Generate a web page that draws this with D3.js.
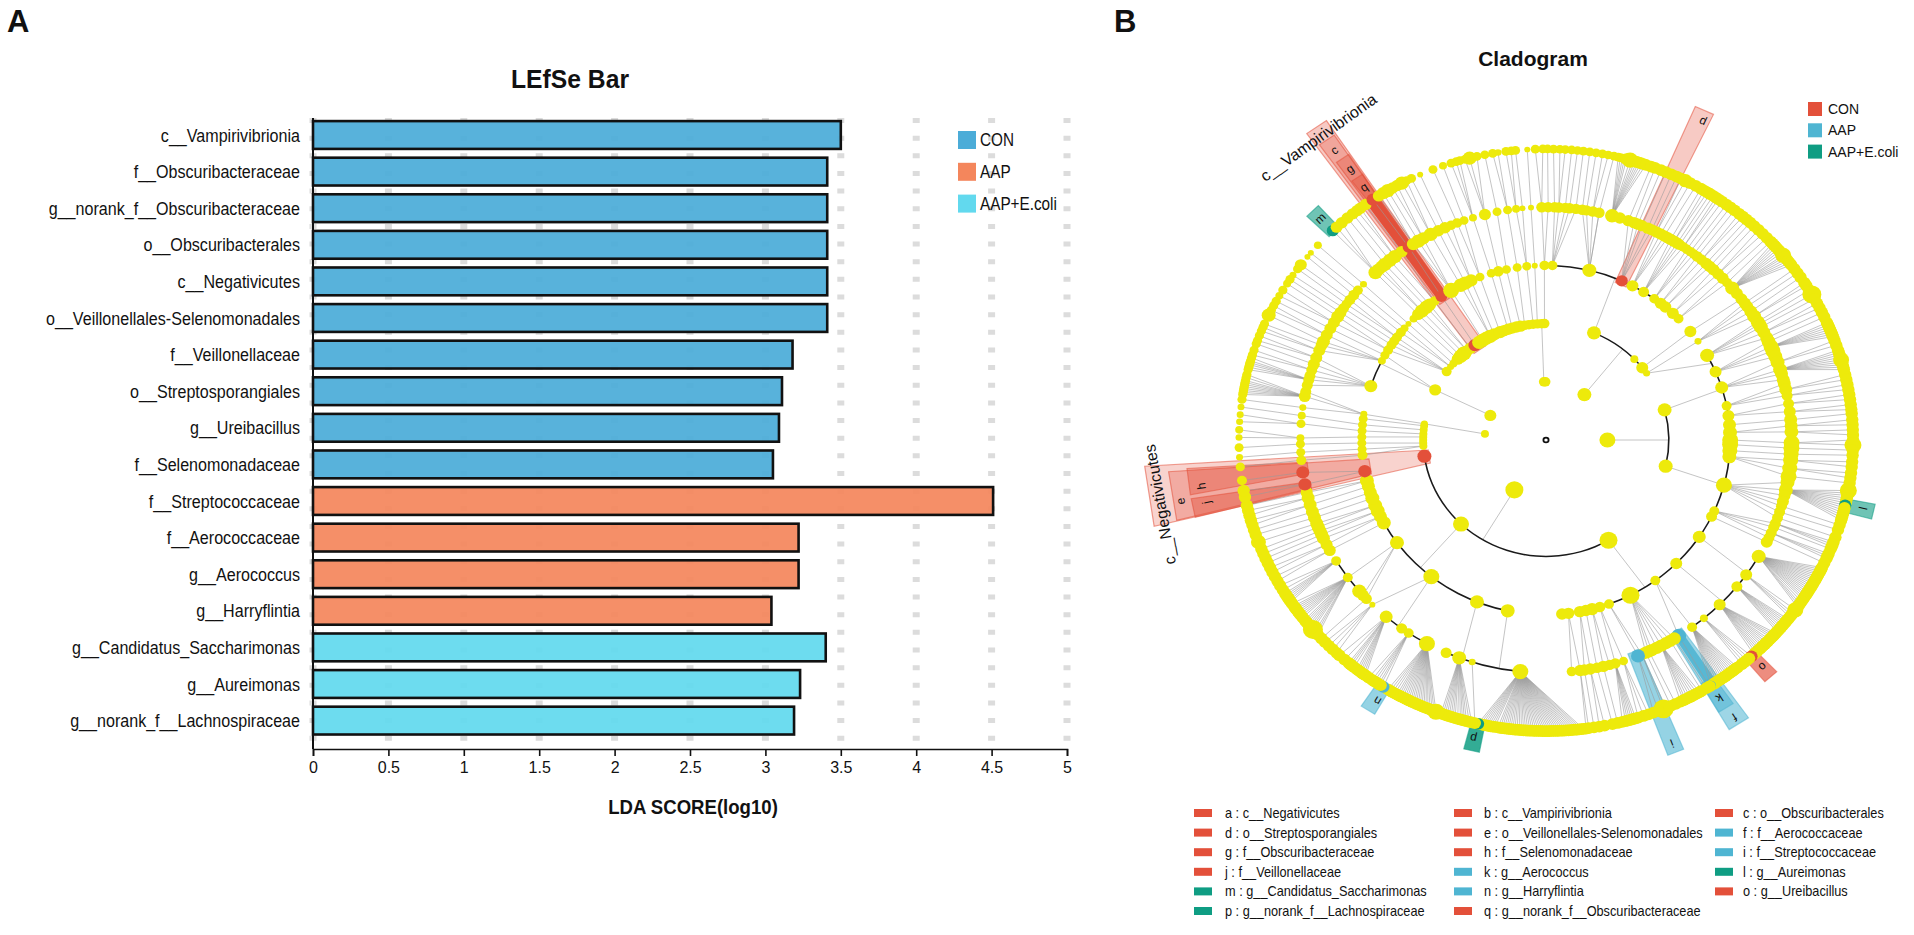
<!DOCTYPE html>
<html><head><meta charset="utf-8">
<script src="https://cdn.jsdelivr.net/npm/d3@7/dist/d3.min.js"></script>
<style>html,body{margin:0;padding:0;background:#fff}svg{display:block}text{font-family:"Liberation Sans",Arial,sans-serif;fill:#111}</style>
</head><body><svg id="c" width="1914" height="935"></svg>
<script>
// ---------- Panel A data ----------
const barNames=["c__Vampirivibrionia","f__Obscuribacteraceae","g__norank_f__Obscuribacteraceae","o__Obscuribacterales","c__Negativicutes","o__Veillonellales-Selenomonadales","f__Veillonellaceae","o__Streptosporangiales","g__Ureibacillus","f__Selenomonadaceae","f__Streptococcaceae","f__Aerococcaceae","g__Aerococcus","g__Harryflintia","g__Candidatus_Saccharimonas","g__Aureimonas","g__norank_f__Lachnospiraceae"];
const barValues=[3.50,3.41,3.41,3.41,3.41,3.41,3.18,3.11,3.09,3.05,4.51,3.22,3.22,3.04,3.40,3.23,3.19];
const barGroups=["CON","CON","CON","CON","CON","CON","CON","CON","CON","CON","AAP","AAP","AAP","AAP","AAP+E.coli","AAP+E.coli","AAP+E.coli"];
const groupNames=["CON","AAP","AAP+E.coli"];
const barTicks=[0,0.5,1,1.5,2,2.5,3,3.5,4,4.5,5];
// ---------- Panel B data: [angle clockwise from north, abundance] per taxonomic ring ----------
const phylumNodes=[[38.7,7],[90,8],[211,9],[276,4],[295,6],[358,5],[359.5,5]];
const classNodes=[[23,7],[46,4],[51.6,6],[55,3.5],[75,7],[103,7],[149.4,9],[223.8,8],[262,7],[267,4],[268.5,4],[270,4],[271.5,4],[273,4],[275,4],[277,4],[278,3.5],[295.5,6],[306,5],[309,3.5],[311,4],[314,6],[316,7],[318,7.5],[320,6],[322,6],[324.6,6.5],[327,7],[329,7],[331,7],[333,7],[335,6.5],[338,6.5],[340,6],[342,6],[344,6],[346,6],[348,6],[350,5],[352,5],[354,5],[356,5],[358,5],[359.3,5]];
const orderNodes=[[359.5,5],[2,5],[13.6,7],[24.3,6],[28,6],[32,5.5],[36,5],[38.5,6],[40.4,6],[43.5,6],[46,5],[51.6,6],[55.6,3.5],[61,7],[67,6],[72.5,6.5],[78.7,5],[82,6],[85,6.5],[87.5,7],[90,8],[91.5,8],[93.5,7.5],[95.5,7],[105,8],[114,5],[116,5.5],[123.7,6.5],[135,6],[143.6,5],[152.7,9],[160,5],[163,5.5],[165.5,6.5],[167.5,6],[169.4,6],[173,6],[175,6],[192,7],[202,7],[218.5,8],[234,7],[241.7,7],[244,6.5],[246,7],[248,7],[250.5,7],[252.5,6.5],[254.6,6.5],[256.5,7],[259.7,6.5],[265,5],[267,4.5],[269,4.5],[271,4.5],[273,4.5],[275,4.5],[277,4.5],[278.5,3.5],[288,6.5],[297,4],[299,4.5],[301,5],[303,5],[304.5,5],[306,5],[308,5],[309.8,4],[311.7,3],[314,4],[316,6],[317.6,7],[319.5,7],[320.8,6.5],[322.8,5],[325.4,6],[329,8],[332.4,7],[334,7],[336,6.5],[339,4.5],[342.7,4.5],[345,5.5],[347.6,4.5],[351,4.5],[354,4.5],[356.5,3]];
const familyNodes=[[359,5.5],[0.5,5.5],[2,5.5],[3,5.5],[4.5,5.5],[5.5,5.5],[7,5.5],[8.5,5.5],[9.5,5.5],[11,5.5],[12.5,5.5],[15.6,7],[17.5,6],[19.6,6],[21,6],[22,6],[23,6],[24.5,6],[25.5,6],[26.7,6],[27.8,6],[28.8,6],[29.7,6],[30.5,6],[31.4,6],[32.3,6],[33,5.5],[34,5],[35,5],[36,5],[37,5],[38,5.5],[39.3,5.5],[40.7,6],[41.8,6],[43,6],[44.5,6],[46,6],[47.5,5],[49.3,7],[51,6],[52.7,6],[54,6],[55,6],[56.5,6.5],[57.9,7],[59.5,7],[60.2,7],[61,7],[62.5,6.5],[64,6.5],[65,7],[66.4,7.5],[67.5,7.5],[69,7],[70.5,7],[72.4,7],[73.5,6.5],[75,6.5],[76,6.5],[77.5,6.5],[79,5.5],[81,5.5],[83,6],[85,6.5],[86.5,6.5],[88,7],[90.7,8],[92,8],[93.5,7.5],[95,7.5],[97,7.5],[99,8],[100.5,7],[102.4,7],[103.8,6],[105.3,6],[106.5,5.5],[108,5.5],[109.5,5.5],[111,5.5],[112,5.5],[113.5,5.5],[114.8,5.5],[116,6],[120,7],[125.4,6],[129,5.5],[135,6],[140,4],[143.5,5],[147.3,7.5],[148.5,6.5],[149.6,6.5],[150.8,6.5],[152,6.5],[153.2,6.5],[154.5,6.5],[155.2,6.5],[156,6.5],[157,6],[158,7],[161.6,4.5],[163.6,5.5],[165,5.5],[166.5,6],[168,5.5],[169.6,6],[171,6],[172,6],[174,5],[186,8],[197.5,3.5],[200.7,7],[204,5.5],[209,8],[214,5],[216,5.5],[220.6,6.5],[225,3],[227,5.5],[228.2,6],[229.5,7],[233.8,5],[238.7,5],[241.7,6],[243.3,6],[245,6.5],[246,6.5],[247,6.5],[248,6.5],[249,6.5],[250.5,6.5],[252,6.5],[253.8,6.5],[255.6,6.5],[257,6],[259,6.5],[262,6.5],[265,5],[267,4.5],[269,4.5],[270.5,4],[274,4.5],[276,4],[278,3.5],[280.8,6],[282,5.5],[283.6,5.5],[285,5.5],[286,5.5],[287.5,5.5],[289,6],[290.7,6],[292.6,6],[294,6],[295,6.5],[296.8,6],[298.6,6],[300.3,6],[302,6.5],[303.2,6],[304.5,5.5],[305.7,5],[307,5.5],[308.5,5.5],[310,5],[312,3.5],[316,7],[317,6.5],[318,6.5],[319,7],[320.5,7],[322,7],[324,6],[326,6],[327.3,6.5],[328.7,7],[330,6.5],[332,7],[334,6],[335.7,6],[337.3,5],[338.8,5],[340.5,4.5],[342.7,4],[345.6,6],[348.5,4.5],[351,4.5],[353,4],[354.5,3],[356.5,3]];
const genusAngles=[0.3,1.4,2.6,3.6,4.8,5.9,7,8.2,9.4,10.6,11.7,12.8,13.6,14,14.4,14.8,15.2,15.9,16.4,16.8,17.2,17.6,18,18.5,19,20,20.8,22,23,24.1,25.2,26.1,27,28,29.2,30.3,31,31.7,32.3,33,33.6,34.2,35,36,36.9,37.9,39,39.9,40.8,41.7,42.7,43.8,44.9,46,47,47.5,48,48.5,49,49.5,50,50.6,51,51.5,52,52.5,53,54,55,56,57.3,58,59,60,61,62,63,64,65,66.2,66.7,67.2,67.7,68.2,68.7,69.2,70,71,72,72.5,73,73.5,74,74.5,75,75.5,76,77,78,79,80,81,82,83,84,84.8,86,87,88,89,90,91,92,93,94.3,95.3,96.5,97.5,98.5,100,100.5,101,101.5,102,102.5,103,103.5,104,104.5,105,105.5,106,107,108,109.5,110.5,111,111.5,112,113,113.5,114,115,116,116.4,116.8,117.2,117.6,118,118.4,118.8,119.2,119.6,120,120.4,120.8,121.2,121.6,122,122.4,122.8,123.2,123.7,124.2,124.6,125,125.7,126.5,127,127.5,128,128.4,128.8,129.2,129.6,130,130.4,130.8,131.2,131.6,132,132.4,132.8,133.3,133.7,134.1,134.5,134.9,135.3,135.7,136.1,136.5,136.9,137.4,138,138.6,139.2,139.8,140.4,141.4,141.8,142.2,142.6,143,143.4,143.8,144.2,144.6,145,145.4,145.8,146.2,146.6,147,147.5,147.8,148.5,149.5,150,150.5,151,151.5,152,152.5,153,153.4,154,155,156,157,157.5,158.5,159.5,160.5,161.5,162.5,163,163.4,163.8,164.2,164.6,165,165.6,166.5,167.5,169,170,171,172,172.5,173,173.4,173.8,174.2,174.6,175,175.4,175.8,176.2,176.6,177,177.4,177.8,178.2,178.6,179,179.4,179.8,180.2,180.6,181,181.4,181.8,182.2,182.6,183,183.4,183.8,184.2,184.6,185,185.4,185.8,186.2,186.6,187,187.4,187.8,188.2,188.6,189,189.6,190,190.4,190.8,191.2,191.6,192,192.4,192.8,193.4,194,194.5,195,195.4,195.8,196.2,196.7,197.2,197.6,198,198.4,198.8,199.2,199.6,200,201,201.4,201.8,202.2,202.6,203,203.4,203.8,204.2,204.6,205,205.4,205.8,206.2,206.6,207,207.4,207.8,208.2,208.6,209,209.5,210,210.5,211,212,212.6,213,213.5,214,214.5,215.3,216,216.4,216.8,217.2,217.6,218,218.7,219.2,219.6,220,221,222.3,223,224,225,226,227,228,228.4,228.8,229.4,229.8,230.2,230.6,231,231.4,231.8,232.4,232.8,233.2,233.6,234,234.4,234.8,235.2,235.8,236.2,236.6,237,237.4,237.8,238.2,239,240,241,242,243,244,245,246,247,248,249.5,251,252,253,254,255,256,257,258.7,260,262,264.7,266.6,268.5,270.5,272,273.6,275,276.5,278,279,279.4,279.8,280.2,280.6,281,281.4,281.8,282.4,283,284,284.5,285,285.4,285.8,286.4,287,288,289.3,290,291,292,292.8,293.5,295.4,296.5,297.5,298.5,299.7,301,302.5,303.5,304.5,306,307,309,310,312,316,317,318.3,319.7,321,322,322.8,324,325.7,327,328,329,330,331,332,333,334,335.8,338.4,340.4,342,343,343.7,344.7,345.6,347,348.5,350,351,352.5,353.5,354.3,356.5,358,359.4];
const genusDefault=6.2;
const genusThinSpans=[[264,360],[0,15]];
const genusThin=4.6;
const genusAbundance={"15.9":8,"27":7,"50.6":8,"60":9.5,"74":8,"91":8.5,"100":8.5,"125.7":8,"147.5":5,"157.5":10,"201":8.5,"229.4":10,"249.5":7.5,"262":5,"266.6":3.5,"268.5":4.5,"270.5":3.5,"272":4,"273.6":3.5,"275":3.5,"276.5":3.5,"295.4":7,"299.7":4,"302.5":4,"304.5":3.5,"307":6,"309":3,"310":3,"312":4,"316":6,"317":6,"318.3":6,"319.7":6,"321":6,"322":6,"322.8":6,"324":6,"325.7":6.5,"327":6,"328":6.5,"329":7,"330":6,"331":6,"332":7,"335.8":3,"338.4":4.5,"340.4":4,"345.6":7,"348.5":4.5,"351":3.5,"356.5":3};
const genusSize=a=>genusAbundance[a]||(genusThinSpans.some(s=>a>=s[0]&&a<=s[1])?genusThin:genusDefault);
const nodesByRing={1:phylumNodes,2:classNodes,3:orderNodes,4:familyNodes,5:genusAngles.map(a=>[a,genusSize(a)])};
// biomarkers: [ring, angle, group]
const biomarkers=[[2,262,"CON"],[2,324.6,"CON"],[3,325.4,"CON"],[3,24.3,"CON"],[3,259.7,"CON"],[4,147.3,"AAP"],[4,326,"CON"],[4,262,"CON"],[4,158,"AAP"],[4,259,"CON"],[5,147.5,"AAP"],[5,103,"AAP+E.coli"],[5,316,"AAP+E.coli"],[5,212,"AAP"],[5,138,"CON"],[5,192.8,"AAP+E.coli"],[5,325.7,"CON"]];
// black sibling arcs: [ring, from, to]
const siblingArcs=[[2,75,103],[2,149.4,262],[2,23,52],[3,2,46],[3,61,163],[3,192,258],[3,288,297],[4,15,17.5],[4,49.3,52],[4,120,143.5],[4,186,204],[4,209,220.6],[4,229.5,238.7]];
// parent-to-arc stems: [parent ring, parent angle, child angle]
const stems=[[1,90,90],[1,211,211],[1,38.7,38.7],[1,295,295.5],[1,276,278],[1,358,358],[2,23,22],[2,55,64],[2,75,73],[2,103,105],[2,149.4,147.5],[2,223.8,223],[2,295.5,296],[3,123.7,125],[3,135,134],[3,143.6,143.5],[3,192,191],[3,202,200],[3,218.5,217],[3,234,233.8],[3,13.6,12.5]];
// dense fans from a family to a span of genera: [family angle, from, to]
const genusFans=[[15.6,13.6,19],[49.3,47.5,53],[66.4,66.2,69.2],[72.4,72,76],[102.4,100,106],[120,116,125],[125.4,125.7,127.5],[129,128,131.2],[135,131.6,137.4],[140,138.6,141],[143.5,141.4,147.5],[152,150,154],[163.6,163,165.6],[186,173,192.8],[200.7,194,200],[209,201,211],[214,212,215.3],[220.6,216,220],[233.8,228,235.8],[238.7,236.2,239],[280.8,279,283],[285,284,286.4],[316,316,318.3]];
// rings whose nodes link to nearest parent, with spans [from,to] of angles
const autoSpansClassToOrder=[[262,360],[0,2],[50,60]];
// clade shading: [key, angle, from radius, to radius, inner width, outer width, group, opacity]
const cladeShades=[["a",261.5,118,401,14,64,"CON",0.25],["e",261,178,378,16,52,"CON",0.3],["h",263,240,360,12,28,"CON",0.4],["j",258.5,240,360,8,20,"CON",0.45],["b",325.2,116,402,14,24,"CON",0.3],["c",325.3,178,385,12,18,"CON",0.3],["g",325.6,240,360,11,15,"CON",0.35],["q",325.7,300,335,9,13,"CON",0.4],["",325.5,184,307,11,13,"CON",1],["d",24.5,180,382,12,20,"CON",0.3],["f",147.2,240,356,13,23,"AAP",0.55],["",147.2,242,307,9,11,"AAP",0.9],["i",158.5,240,354,13,17,"AAP",0.6],["k",147.5,300,335,14,17,"AAP",0.55],["l",103,305,336,14,16,"AAP+E.coli",0.6],["m",316,305,336,14,16,"AAP+E.coli",0.6],["p",192.8,305,336,14,16,"AAP+E.coli",0.85],["n",212,305,336,14,16,"AAP",0.6],["o",138,305,336,14,16,"CON",0.65]];
// letters: [letter, angle, radius]
const cladeLetters=[["c",325.3,372],["d",25,372],["e",260,371],["f",147.2,348],["g",325.6,347],["h",262,348],["i",158.5,344],["j",259,346],["k",147.5,323],["l",102.8,325],["m",316,325],["n",211.5,323],["o",137.8,323],["p",193,323],["q",325.7,323]];
const cladeNames=[["c__Vampirivibrionia",324.5,392],["c__Negativicutes",260,392]];
const legendKeys=["a","b","c","d","e","f","g","h","i","j","k","l","m","n","o","p","q"];
const legendTaxa=["c__Negativicutes","c__Vampirivibrionia","o__Obscuribacterales","o__Streptosporangiales","o__Veillonellales-Selenomonadales","f__Aerococcaceae","f__Obscuribacteraceae","f__Selenomonadaceae","f__Streptococcaceae","f__Veillonellaceae","g__Aerococcus","g__Aureimonas","g__Candidatus_Saccharimonas","g__Harryflintia","g__Ureibacillus","g__norank_f__Lachnospiraceae","g__norank_f__Obscuribacteraceae"];
const legendGroups=["CON","CON","CON","CON","CON","AAP","CON","CON","AAP","CON","AAP","AAP+E.coli","AAP+E.coli","AAP","CON","AAP+E.coli","CON"];

// ---------- Styles ----------
const barColor={"CON":"#4BACD8","AAP":"#F4865C","AAP+E.coli":"#62D9EE"};
const cladeColor={"CON":"#E3503A","AAP":"#4FB5D2","AAP+E.coli":"#0F9D83"};
const YELLOW="#EDEA0B";
const svg=d3.select("#c");
function label(g,str,x,y,size,sx,anchor,weight){
  return g.append("text").attr("transform",`translate(${x},${y}) scale(${sx},1)`).attr("text-anchor",anchor||"start")
    .attr("font-size",size).attr("font-weight",weight||"normal").text(str);
}
label(svg,"A",7,32,31,1,"start","bold");
label(svg,"B",1114,32,31,1,"start","bold");

// ---------- Panel A ----------
const x=d3.scaleLinear().domain([0,5]).range([313,1067]);
const y=d3.scaleBand().domain(barNames).range([116.7,738.9]).paddingInner(.24).paddingOuter(.12);
const AX_Y=749;
svg.append("g").selectAll("line").data(barTicks).join("line")
  .attr("x1",d=>x(d)).attr("x2",d=>x(d)).attr("y1",118).attr("y2",752)
  .attr("stroke","#dcdcdc").attr("stroke-width",7).attr("stroke-dasharray","5 12.65");
svg.append("line").attr("x1",313).attr("x2",313).attr("y1",118).attr("y2",AX_Y).attr("stroke","#111").attr("stroke-width",2);
svg.append("g").selectAll("rect").data(barNames).join("rect")
  .attr("x",x(0)).attr("y",d=>y(d)).attr("width",(d,i)=>x(barValues[i])-x(0)).attr("height",y.bandwidth())
  .attr("fill",(d,i)=>barColor[barGroups[i]]).attr("fill-opacity",.93).attr("stroke","#111").attr("stroke-width",2.6);
barNames.forEach(n=>label(svg,n,300,y(n)+y.bandwidth()/2+6.5,18.5,.87,"end"));
const axis=d3.axisBottom(x).tickValues(barTicks).tickFormat(d3.format("~g")).tickSizeOuter(0).tickSize(7);
const axG=svg.append("g").attr("transform",`translate(0,${AX_Y})`).call(axis);
axG.selectAll("path,line").attr("stroke","#111").attr("stroke-width",1.6);
axG.selectAll("text").attr("font-size",16).attr("dy","0.9em").attr("font-family",'"Liberation Sans"');
label(svg,"LEfSe Bar",570,88,26,.95,"middle","bold");
label(svg,"LDA SCORE(log10)",693,814,20,.93,"middle","bold");
groupNames.forEach((g,i)=>{
  const ly=131+i*31.8;
  svg.append("rect").attr("x",958).attr("y",ly).attr("width",18).attr("height",18).attr("fill",barColor[g]);
  label(svg,g,980,ly+15,18,.85);
});

// ---------- Panel B ----------
const CX=1546,CY=440,YS=.948;
const rad=d3.scaleLinear().domain([0,360]).range([0,2*Math.PI]);
const ring=d3.scaleLinear().domain([0,5]).range([0,307]);
const polar=(a,r)=>[r*Math.sin(rad(a)),-r*Math.cos(rad(a))];
const toScreen=(a,r)=>{const p=polar(a,r);return [CX+p[0],CY+p[1]*YS];};
const nodeR=d3.scaleLinear().domain([1,10]).range([1,10]);
const bioColor=(r,a)=>{const b=biomarkers.find(q=>q[0]===r&&q[1]===a);return b?cladeColor[b[2]]:YELLOW;};
const cl=svg.append("g").attr("transform",`translate(${CX},${CY}) scale(1,${YS})`);
// shading
const line=d3.line();
function quad(a,r0,r1,w0,w1){
  const u=polar(a,1),n=[-u[1],u[0]];
  const pt=(r,w)=>[u[0]*r+n[0]*w/2,u[1]*r+n[1]*w/2];
  return line([pt(r0,w0),pt(r1,w1),pt(r1,-w1),pt(r0,-w0)])+"Z";
}
cl.append("g").selectAll("path").data(cladeShades).join("path")
  .attr("d",d=>quad(d[1],d[2],d[3],d[4],d[5]))
  .attr("fill",d=>cladeColor[d[6]]).attr("fill-opacity",d=>d[7])
  .attr("stroke",d=>cladeColor[d[6]]).attr("stroke-opacity",.55).attr("stroke-width",d=>d[0]?1.2:0);
// links
const links=[];
const nearest=(list,a)=>{let best=list[0],bd=999;list.forEach(n=>{let d=Math.abs(n[0]-a);d=Math.min(d,360-d);if(d<bd){bd=d;best=n;}});return best[0];};
const inArc=(r,a)=>siblingArcs.some(s=>s[0]===r&&a>=s[1]-.01&&a<=s[2]+.01);
stems.forEach(s=>links.push([s[0],s[1],s[0]+1,s[2]]));
orderNodes.forEach(n=>{ if(autoSpansClassToOrder.some(s=>n[0]>=s[0]&&n[0]<=s[1])&&!inArc(3,n[0])) links.push([2,nearest(classNodes,n[0]),3,n[0]]);});
familyNodes.forEach(n=>{ if(!inArc(4,n[0])) links.push([3,nearest(orderNodes,n[0]),4,n[0]]);});
genusAngles.forEach(a=>{
  const f=genusFans.find(q=>a>=q[1]&&a<=q[2]);
  links.push([4,f?f[0]:nearest(familyNodes,a),5,a]);
});
cl.append("g").selectAll("line").data(links).join("line")
  .attr("x1",d=>polar(d[1],ring(d[0]))[0]).attr("y1",d=>polar(d[1],ring(d[0]))[1])
  .attr("x2",d=>polar(d[3],ring(d[2]))[0]).attr("y2",d=>polar(d[3],ring(d[2]))[1])
  .attr("stroke","#9a9a9a").attr("stroke-width",.75).attr("stroke-opacity",.8);
// black arcs
const arcGen=d3.arc();
cl.append("g").selectAll("path").data(siblingArcs).join("path")
  .attr("d",d=>arcGen({innerRadius:ring(d[0])-.8,outerRadius:ring(d[0])+.8,startAngle:rad(d[1]),endAngle:rad(d[2])}))
  .attr("fill","#1a1a1a");
// nodes
[1,2,3,4,5].forEach(r=>{
  cl.append("g").selectAll("circle").data(nodesByRing[r].slice().sort((p,q)=>p[0]-q[0])).join("circle")
    .attr("cx",d=>polar(d[0],ring(r))[0]).attr("cy",d=>polar(d[0],ring(r))[1]).attr("r",d=>nodeR(d[1]))
    .attr("fill",d=>bioColor(r,d[0]));
});
cl.append("circle").attr("r",2.6).attr("fill","#fff").attr("stroke","#111").attr("stroke-width",1.8);
// letters
cladeLetters.forEach(d=>{
  const p=toScreen(d[1],d[2]);
  svg.append("text").attr("transform",`translate(${p[0]},${p[1]}) rotate(${d[1]})`).attr("text-anchor","middle").attr("dy",".35em").attr("font-size",12).text(d[0]);
});
cladeNames.forEach(d=>{
  const p=toScreen(d[1],d[2]);
  svg.append("text").attr("transform",`translate(${p[0]},${p[1]}) rotate(${d[1]})`).attr("text-anchor","middle").attr("dy",".35em").attr("font-size",16).text(d[0]);
});
label(svg,"Cladogram",1533,66,20,1.05,"middle","bold");
groupNames.forEach((g,i)=>{
  const ly=102+i*21.3;
  svg.append("rect").attr("x",1808).attr("y",ly).attr("width",14).attr("height",14).attr("fill",cladeColor[g]);
  label(svg,g,1828,ly+12,14,1);
});
// bottom legend, filled by rows in three columns
const colRect=[1194,1454,1715],colText=[1225,1484,1743],rowStart=813,rowStep=19.6;
legendKeys.forEach((k,i)=>{
  const c=i%3,r=Math.floor(i/3),ly=rowStart+r*rowStep;
  svg.append("rect").attr("x",colRect[c]).attr("y",ly-4).attr("width",18).attr("height",8).attr("fill",cladeColor[legendGroups[i]]);
  label(svg,`${k} : ${legendTaxa[i]}`,colText[c],ly+5,14,.91);
});
</script></body></html>
